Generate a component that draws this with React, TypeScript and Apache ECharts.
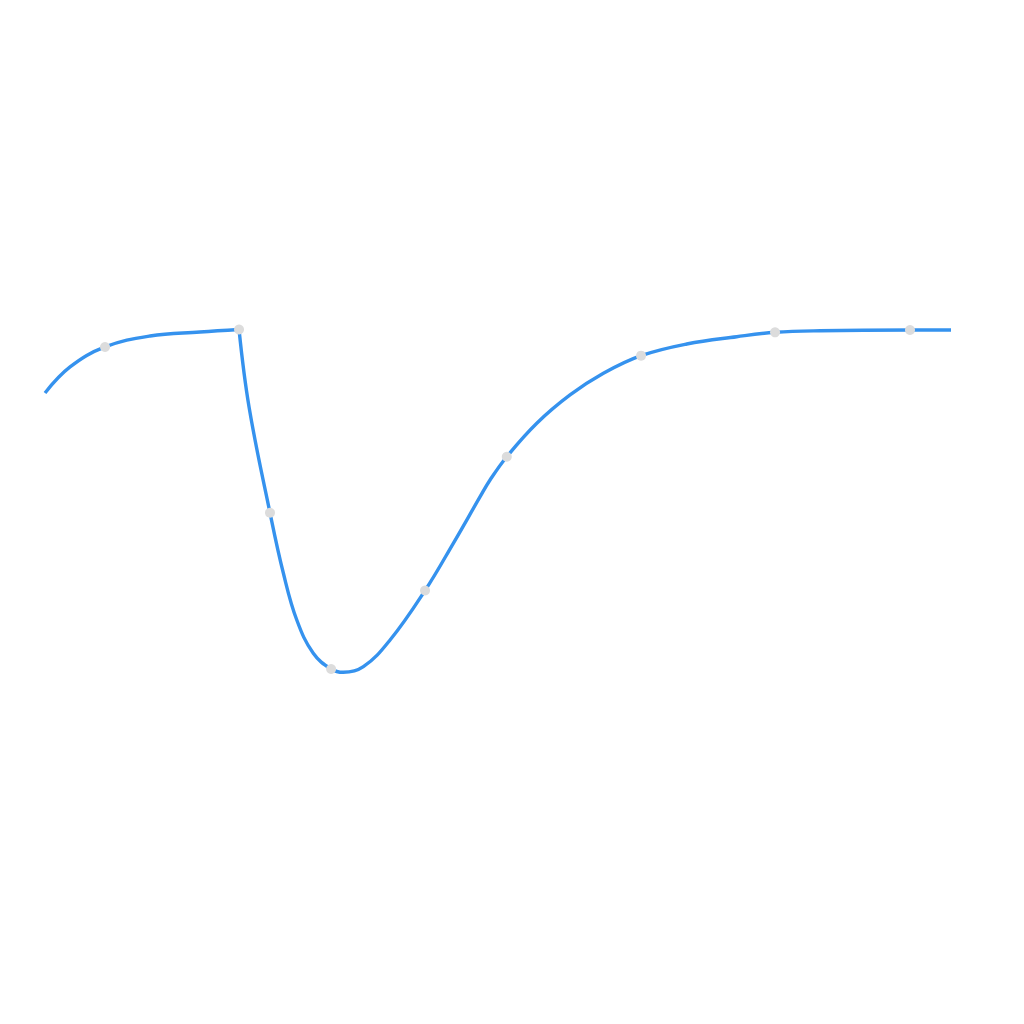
import React, { useEffect, useRef } from 'react';
import * as echarts from 'echarts';

// x in step units, y in percent
// stretch up to the peak
const riseX = [0.552, 0.739, 1, 1.336, 1.709, 2];
const riseY = [63.38, 66.63, 69.13, 70.5, 71.0, 71.31];
// drop, trough and recovery after the peak
const fallX = [
  2, 2.075, 2.231, 2.331, 2.431, 2.554, 2.687, 2.778, 2.928, 3.127, 3.388, 3.599,
  3.799, 3.873, 3.998, 4.222, 4.47, 4.719, 5, 5.341, 5.714, 6, 6.336, 7.007, 7.313,
];
const fallY = [
  71.31, 61.6, 48.41, 40.84, 35.0, 30.84, 28.88, 28.46, 29.16, 32.5, 38.69, 44.59,
  50.41, 52.5, 55.41, 59.59, 63.13, 65.84, 68.04, 69.5, 70.41, 70.96, 71.16, 71.25, 71.25,
];
// measured points (grey markers)
const markX = [1, 2, 2.231, 2.687, 3.388, 3.998, 5, 6, 7.007];
const markY = [69.13, 71.31, 48.41, 28.88, 38.69, 55.41, 68.04, 70.96, 71.25];

const LINE = '#3592ee';
const DOT = '#dcdcdc';

const pairs = (xs: number[], ys: number[]) => xs.map((x, i) => [x, ys[i]]);

const App: React.FC = () => {
  const chartRef: any = useRef();

  useEffect(() => {
    const chart = echarts.init(chartRef.current, undefined, { renderer: 'svg' });
    const lineBase = {
      type: 'line',
      smooth: 0.4,
      symbol: 'none',
      lineStyle: { color: LINE, width: 3.4 },
      emphasis: { disabled: true },
      z: 2,
    };
    const option = {
      animation: false,
      backgroundColor: '#ffffff',
      grid: { left: 45, right: 73, top: 100, bottom: 124 },
      xAxis: {
        type: 'value',
        min: 0.552,
        max: 7.313,
        show: false,
        splitLine: { show: false },
      },
      yAxis: {
        type: 'value',
        min: 0,
        max: 100,
        show: false,
        splitLine: { show: false },
      },
      series: [
        { ...lineBase, name: 'rise', data: pairs(riseX, riseY) },
        { ...lineBase, name: 'fall', data: pairs(fallX, fallY) },
        {
          type: 'scatter',
          name: 'points',
          symbol: 'circle',
          symbolSize: 10,
          itemStyle: { color: DOT, opacity: 1, borderWidth: 0 },
          emphasis: { disabled: true },
          z: 3,
          data: pairs(markX, markY),
        },
      ],
    };
    chart.setOption(option as any);
    return () => {
      chart.dispose();
    };
  }, []);

  return (
    <div
      ref={chartRef}
      style={{ position: 'absolute', left: 0, top: 0, width: 1024, height: 1024 }}
    ></div>
  );
};

export default App;
